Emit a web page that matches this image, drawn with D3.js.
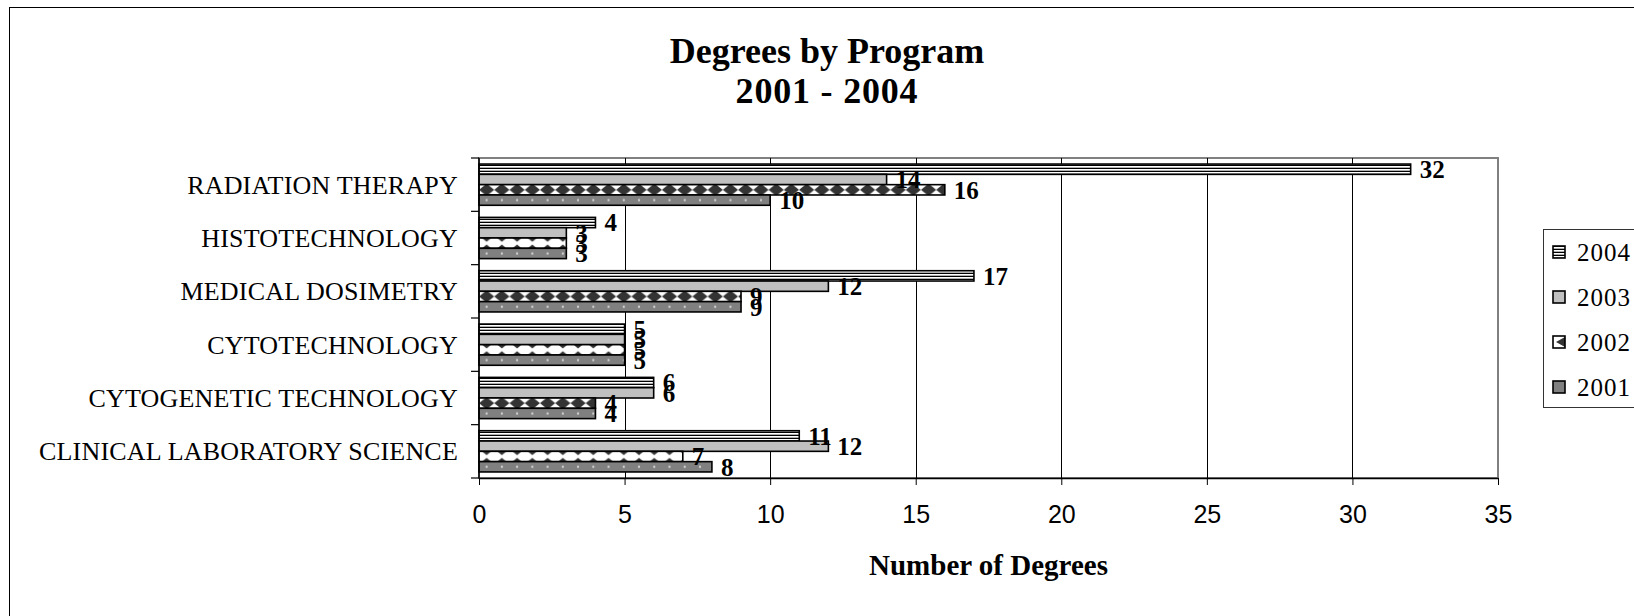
<!DOCTYPE html>
<html>
<head>
<meta charset="utf-8">
<script src="https://cdn.jsdelivr.net/npm/d3@7"></script>
<style>
  html, body { margin: 0; padding: 0; background: #fff; }
  svg { display: block; }
</style>
</head>
<body>
<svg id="chart" width="1634" height="616"></svg>
<script>
// ---------- data ----------
const categories = ["RADIATION THERAPY", "HISTOTECHNOLOGY", "MEDICAL DOSIMETRY",
                    "CYTOTECHNOLOGY", "CYTOGENETIC TECHNOLOGY", "CLINICAL LABORATORY SCIENCE"];
const series = ["2004", "2003", "2002", "2001"];
const values2004 = [32, 4, 17, 5, 6, 11];
const values2003 = [14, 3, 12, 5, 6, 12];
const values2002 = [16, 3, 9, 5, 4, 7];
const values2001 = [10, 3, 9, 5, 4, 8];
const xTicks = [0, 5, 10, 15, 20, 25, 30, 35];
const titleLines = ["Degrees by Program", "2001 - 2004"];
const xTitle = "Number of Degrees";

const valuesBySeries = { "2004": values2004, "2003": values2003, "2002": values2002, "2001": values2001 };

// ---------- layout ----------
const svg = d3.select("#chart");
const plot = { left: 479, right: 1498, top: 158, bottom: 478 };
const serif = "'Liberation Serif', 'Times New Roman', Times, serif";
const sans = "'Liberation Sans', Arial, Helvetica, sans-serif";

const x = d3.scaleLinear().domain([0, 35]).range([plot.left, plot.right]);
const y0 = d3.scaleBand().domain(categories).range([plot.top, plot.bottom])
  .paddingInner(0.227).paddingOuter(0.1135);
const y1 = d3.scaleBand().domain(series).range([0, y0.bandwidth()]);

// ---------- patterns ----------
const defs = svg.append("defs");
// 2004: horizontal stripes
const p4 = defs.append("pattern").attr("id", "pat-2004").attr("patternUnits", "userSpaceOnUse")
  .attr("width", 6).attr("height", 3);
p4.append("rect").attr("width", 6).attr("height", 3).attr("fill", "#ffffff");
p4.append("rect").attr("y", 0).attr("width", 6).attr("height", 1).attr("fill", "#000000");
p4.append("rect").attr("y", 2).attr("width", 6).attr("height", 1).attr("fill", "#b0b0b0");
// 2002: diamond lattice
const P = 15.24;
const diaY = y0(categories[0]) + y1("2002") + y1.bandwidth() / 2 - P / 2;
const p2 = defs.append("pattern").attr("id", "pat-2002").attr("patternUnits", "userSpaceOnUse")
  .attr("x", x(0)).attr("y", diaY).attr("width", P).attr("height", P);
p2.append("rect").attr("width", P).attr("height", P).attr("fill", "#ffffff");
p2.append("polygon")
  .attr("points", [[P / 2, P / 2 - 6.2], [P, P / 2], [P / 2, P / 2 + 6.2], [0, P / 2]].map(d => d.join(",")).join(" "))
  .attr("fill", "#333333");
// legend swatch variant of 2002 (a corner of the diamond on white)
const p2l = defs.append("pattern").attr("id", "pat-2002-legend").attr("patternUnits", "objectBoundingBox")
  .attr("width", 1).attr("height", 1);
p2l.append("rect").attr("width", 12).attr("height", 12).attr("fill", "#ffffff");
p2l.append("polygon").attr("points", "12,1 3,6 12,11").attr("fill", "#333333");
// 2001: dark gray with small white dots
const dotY = y0(categories[0]) - y0.step() * y0.paddingInner() / 2;
const p1 = defs.append("pattern").attr("id", "pat-2001").attr("patternUnits", "userSpaceOnUse")
  .attr("x", x(0)).attr("y", dotY).attr("width", P).attr("height", y0.step());
p1.append("rect").attr("width", P).attr("height", y0.step()).attr("fill", "#808080");
p1.append("rect")
  .attr("x", P / 2 - 1)
  .attr("y", y0.step() * y0.paddingInner() / 2 + y1("2001") + y1.bandwidth() / 2 - 1)
  .attr("width", 2).attr("height", 2).attr("fill", "#d8d8d8");

const fills = { "2004": "url(#pat-2004)", "2003": "#c0c0c0", "2002": "url(#pat-2002)", "2001": "url(#pat-2001)" };
const legendFills = { "2004": "url(#pat-2004)", "2003": "#c0c0c0", "2002": "url(#pat-2002-legend)", "2001": "#808080" };

// ---------- chart area border ----------
svg.append("rect").attr("x", 9.5).attr("y", 7.5).attr("width", 1700).attr("height", 700)
  .attr("fill", "#ffffff").attr("stroke", "#000000").attr("stroke-width", 1);

// ---------- title ----------
svg.append("text").attr("x", 827).attr("y", 63)
  .attr("text-anchor", "middle").attr("font-family", serif).attr("font-weight", "bold")
  .attr("font-size", 36).attr("fill", "#000")
  .selectAll("tspan").data(titleLines).join("tspan")
  .attr("x", 827).attr("dy", (d, i) => i === 0 ? 0 : 40)
  .attr("letter-spacing", (d, i) => i === 0 ? 0 : 0.8)
  .text(d => d);

// ---------- plot frame (top/right gray) ----------
svg.append("rect").attr("x", plot.left).attr("y", plot.top)
  .attr("width", plot.right - plot.left).attr("height", plot.bottom - plot.top)
  .attr("fill", "none").attr("stroke", "#808080").attr("stroke-width", 2);

// ---------- gridlines ----------
svg.append("g").selectAll("line").data(xTicks.filter(t => t > 0 && t < 35)).join("line")
  .attr("x1", d => Math.round(x(d)) + 0.5).attr("x2", d => Math.round(x(d)) + 0.5)
  .attr("y1", plot.top).attr("y2", plot.bottom)
  .attr("stroke", "#000").attr("stroke-width", 1);

// ---------- bars ----------
const gBars = svg.append("g");
series.forEach(s => {
  const vals = valuesBySeries[s];
  gBars.append("g").selectAll("rect").data(categories).join("rect")
    .attr("x", x(0))
    .attr("y", (c) => y0(c) + y1(s))
    .attr("width", (c, i) => x(vals[i]) - x(0))
    .attr("height", y1.bandwidth())
    .attr("fill", fills[s])
    .attr("stroke", "#000").attr("stroke-width", 1.6);
});

// ---------- data labels ----------
const gLabels = svg.append("g");
series.forEach(s => {
  const vals = valuesBySeries[s];
  gLabels.append("g").selectAll("text").data(categories).join("text")
    .attr("x", (c, i) => x(vals[i]) + 9)
    .attr("y", c => y0(c) + y1(s) + y1.bandwidth() / 2)
    .attr("dy", "0.35em")
    .attr("font-family", serif).attr("font-weight", "bold").attr("font-size", 25)
    .attr("fill", "#000")
    .text((c, i) => vals[i]);
});

// ---------- x axis ----------
const xAxis = svg.append("g").attr("transform", `translate(0,${plot.bottom})`)
  .call(d3.axisBottom(x).tickValues(xTicks).tickSize(7).tickSizeOuter(0).tickPadding(20).tickFormat(d3.format("d")));
xAxis.select(".domain").attr("stroke", "#000").attr("stroke-width", 1.5);
xAxis.selectAll(".tick line").attr("stroke", "#000");
xAxis.selectAll(".tick text").attr("font-family", sans).attr("font-size", 25).attr("fill", "#000");

// ---------- y axis ----------
const gY = svg.append("g");
gY.append("line").attr("x1", plot.left).attr("x2", plot.left)
  .attr("y1", plot.top).attr("y2", plot.bottom).attr("stroke", "#000").attr("stroke-width", 1.5);
const boundaries = d3.range(categories.length + 1).map(i => y0.range()[0] + i * y0.step());
gY.selectAll("line.tick").data(boundaries).join("line").attr("class", "tick")
  .attr("x1", plot.left - 8).attr("x2", plot.left)
  .attr("y1", d => d).attr("y2", d => d)
  .attr("stroke", "#000").attr("stroke-width", 1.2);
gY.selectAll("text").data(categories).join("text")
  .attr("x", plot.left - 21)
  .attr("y", c => y0(c) + y0.bandwidth() / 2)
  .attr("dy", "0.34em")
  .attr("text-anchor", "end")
  .attr("font-family", serif).attr("font-size", 26).attr("letter-spacing", 0.2).attr("fill", "#000")
  .text(c => c);

// ---------- x title ----------
svg.append("text").attr("x", (plot.left + plot.right) / 2).attr("y", 575)
  .attr("text-anchor", "middle").attr("font-family", serif).attr("font-weight", "bold")
  .attr("font-size", 29).attr("fill", "#000").text(xTitle);

// ---------- legend ----------
const lg = svg.append("g");
lg.append("rect").attr("x", 1543.5).attr("y", 229.5).attr("width", 200).attr("height", 178)
  .attr("fill", "#fff").attr("stroke", "#333").attr("stroke-width", 1);
const legendRow = d3.scalePoint().domain(series).range([252, 387]);
const items = lg.selectAll("g.item").data(series).join("g").attr("class", "item")
  .attr("transform", s => `translate(1553,${legendRow(s)})`);
items.append("rect").attr("x", 0).attr("y", -6).attr("width", 12).attr("height", 12)
  .attr("fill", s => legendFills[s]).attr("stroke", "#000").attr("stroke-width", 1.6);
items.append("text").attr("x", 24).attr("y", 0).attr("dy", "0.34em")
  .attr("font-family", serif).attr("font-size", 25).attr("letter-spacing", 1)
  .attr("fill", "#000").text(s => s);
</script>
</body>
</html>
